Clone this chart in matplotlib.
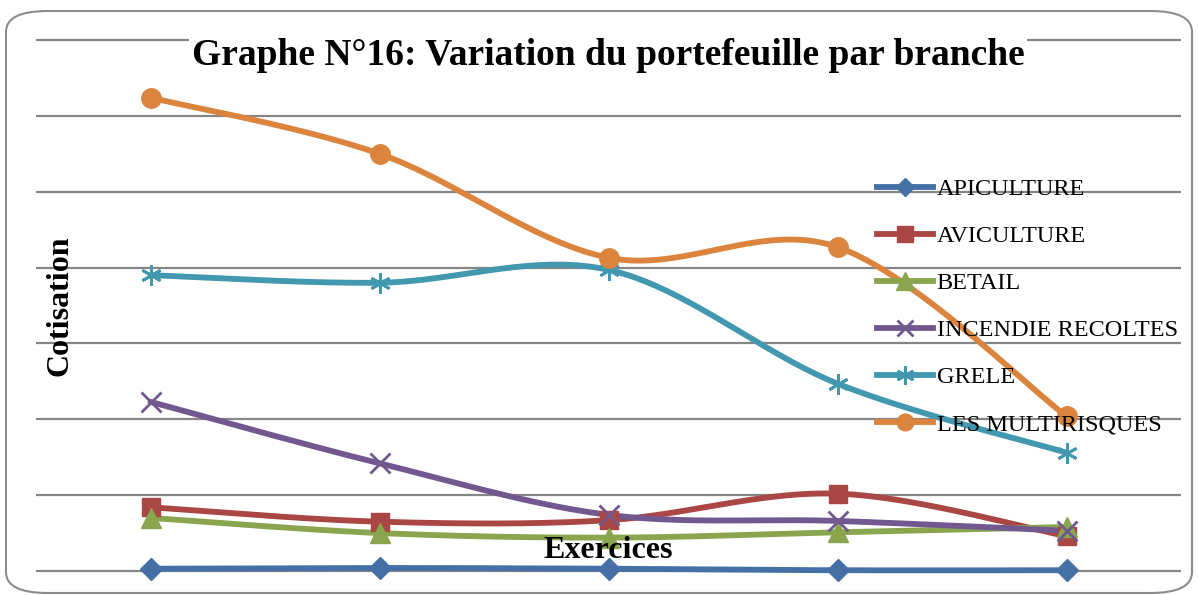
import matplotlib.pyplot as plt
import numpy as np
from matplotlib.patches import FancyBboxPatch

# data (in gridline units)
exercices = ["1", "2", "3", "4", "5"]
apiculture = [0.03, 0.04, 0.03, 0.01, 0.01]
aviculture = [0.84, 0.65, 0.67, 1.02, 0.46]
betail = [0.70, 0.50, 0.44, 0.51, 0.58]
incendie = [2.23, 1.42, 0.74, 0.66, 0.53]
grele = [3.90, 3.80, 3.97, 2.47, 1.56]
multirisques = [6.24, 5.50, 4.13, 4.27, 2.04]

series = [
    ("APICULTURE", apiculture, "#4470A6", "D", 11),
    ("AVICULTURE", aviculture, "#AA4643", "s", 13),
    ("BETAIL", betail, "#89A54E", "^", 15),
    ("INCENDIE RECOLTES", incendie, "#71588F", "x", 14),
    ("GRELE", grele, "#4198AF", (6, 2, 0), 15),
    ("LES MULTIRISQUES", multirisques, "#DB843D", "o", 14),
]


def smooth(xs, ys, n=40):
    # excel-like smoothed line (catmull-rom through the points)
    P = np.column_stack([xs, ys]).astype(float)
    P = np.vstack([P[0], P, P[-1]])
    out = []
    t = np.linspace(0, 1, n)[:, None]
    for i in range(1, len(P) - 2):
        p0, p1, p2, p3 = P[i - 1], P[i], P[i + 1], P[i + 2]
        c1 = p1 + (p2 - p0) / 6
        c2 = p2 - (p3 - p1) / 6
        seg = (1 - t) ** 3 * p1 + 3 * (1 - t) ** 2 * t * c1 + 3 * (1 - t) * t ** 2 * c2 + t ** 3 * p2
        out.append(seg)
    out = np.vstack(out)
    return out[:, 0], out[:, 1]


fig = plt.figure(figsize=(11.98, 5.95), dpi=100)
ax = fig.add_axes([36 / 1198, 1 - 571 / 595, (1181 - 36) / 1198, (571 - 40) / 595])

x = np.arange(len(exercices)) + 0.5
lw = 4.2
for name, vals, col, mk, ms in series:
    sx, sy = smooth(x, vals)
    ax.plot(sx, sy, color=col, lw=lw, solid_capstyle="round", zorder=3, clip_on=False)
    if mk in ("x", (6, 2, 0)):
        ax.plot(x, vals, ls="none", marker=mk, ms=ms, mec=col, mew=2, zorder=4, clip_on=False)
        ax.plot([], [], color=col, lw=lw, marker=mk, ms=ms - 2, mec=col, mew=2, label=name)
    else:
        ax.plot(x, vals, ls="none", marker=mk, ms=ms, color=col, mec=col, zorder=4, clip_on=False)
        ax.plot([], [], color=col, lw=lw, marker=mk, ms=ms - 2, mec=col, label=name)

ax.set_xlim(0, 5)
ax.set_ylim(0, 7)
ax.hlines(range(8), 0, 5, color="#868686", lw=1.6, zorder=0, clip_on=False)
ax.set_xticks([])
ax.set_yticks([])
for s in ax.spines.values():
    s.set_visible(False)

leg = fig.legend(loc="upper left", bbox_to_anchor=(877 / 1198, 1 - 178 / 595), frameon=False,
                 prop={"family": "Liberation Serif", "size": 17.5}, handlelength=2.3,
                 handletextpad=0.15, labelspacing=1.03, borderaxespad=0, borderpad=0)

fig.text(608 / 1198, 1 - 65 / 595, "Graphe N°16: Variation du portefeuille par branche",
         ha="center", va="baseline", family="Liberation Serif", weight="bold", fontsize=27,
         bbox=dict(facecolor="white", edgecolor="none", pad=2), zorder=10)
fig.text(60 / 1198, 1 - 306 / 595, "Cotisation", rotation=90, ha="center", va="center",
         family="Liberation Serif", weight="bold", fontsize=23)
fig.text(608 / 1198, 1 - 550 / 595, "Exercices", ha="center", va="center",
         family="Liberation Serif", weight="bold", fontsize=23, zorder=10)

border = FancyBboxPatch((6 / 1198, 1 - 593 / 595), 1186 / 1198, 582 / 595,
                        boxstyle="round,pad=0,rounding_size=0.035", transform=fig.transFigure,
                        facecolor="none", edgecolor="#8c8c8c", lw=1.5, mutation_aspect=595 / 1198 * 2)
fig.patches.append(border)

fig.savefig("out.png", dpi=100)
